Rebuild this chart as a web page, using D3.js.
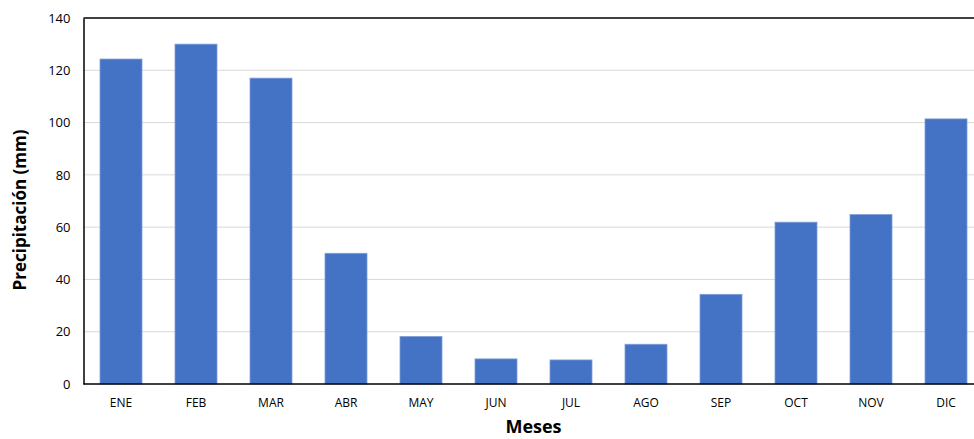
<!DOCTYPE html>
<html><head><meta charset="utf-8">
<script src="https://cdn.jsdelivr.net/npm/d3@7"></script>
<style>
html,body{margin:0;padding:0;background:#fff;overflow:hidden}
svg{display:block;font-family:"Open Sans",sans-serif}
</style></head>
<body>
<svg id="chart" width="974" height="439"></svg>
<script>
const months = ["ENE","FEB","MAR","ABR","MAY","JUN","JUL","AGO","SEP","OCT","NOV","DIC"];
const precip = [124.3,130.0,117.0,50.0,18.2,9.6,9.2,15.2,34.3,61.9,64.8,101.4];
const yTicks = [0,20,40,60,80,100,120,140];
const xTitle = "Meses";
const yTitle = "Precipitación (mm)";

const svg = d3.select("#chart");
const mLeft = 83.5, mRight = 983.5, mTop = 18, mBottom = 384;

const x = d3.scaleBand().domain(months).range([mLeft, mRight]).paddingInner(0.44).paddingOuter(0.22);
const y = d3.scaleLinear().domain([0,140]).range([mBottom, mTop]);

// gridlines
svg.append("g").selectAll("line").data(yTicks.filter(d => d > 0 && d < 140)).join("line")
  .attr("x1", mLeft).attr("x2", 974)
  .attr("y1", d => y(d)).attr("y2", d => y(d))
  .attr("stroke", "#d9d9d9").attr("stroke-width", 1);

// bars
svg.append("g").selectAll("rect").data(months).join("rect")
  .attr("x", d => x(d)).attr("width", x.bandwidth())
  .attr("y", (d,i) => y(precip[i])).attr("height", (d,i) => y(0) - y(precip[i]))
  .attr("fill", "#4472c4").attr("stroke", "#7f9fd8").attr("stroke-width", 0.8);

// top frame line
svg.append("line").attr("x1", mLeft).attr("x2", 974).attr("y1", mTop).attr("y2", mTop)
  .attr("stroke", "#000").attr("stroke-width", 1.5);

// axes
const yAxis = d3.axisLeft(y).tickValues(yTicks).tickSize(0).tickPadding(13);
const gy = svg.append("g").attr("transform", `translate(${mLeft},0)`).call(yAxis);
gy.select(".domain").attr("stroke", "#000").attr("stroke-width", 1.5);
gy.selectAll("text").attr("font-size", 13).attr("fill", "#000").attr("font-family", "'Open Sans',sans-serif");

const xAxis = d3.axisBottom(x).tickSize(0).tickPadding(14);
const gx = svg.append("g").attr("transform", `translate(0,${mBottom})`).call(xAxis);
gx.select(".domain").attr("stroke", "#000").attr("stroke-width", 1.5).attr("d", `M${mLeft},0H974`);
gx.selectAll("text").attr("font-size", 12).attr("fill", "#000").attr("font-family", "'Open Sans',sans-serif");

// titles
svg.append("text").attr("x", (mLeft + mRight) / 2).attr("y", 433)
  .attr("text-anchor", "middle").attr("font-size", 18).attr("font-weight", "bold").text(xTitle);
svg.append("text").attr("transform", "translate(26,210) rotate(-90)")
  .attr("text-anchor", "middle").attr("font-size", 17).attr("font-weight", "bold").text(yTitle);
</script>
</body></html>
